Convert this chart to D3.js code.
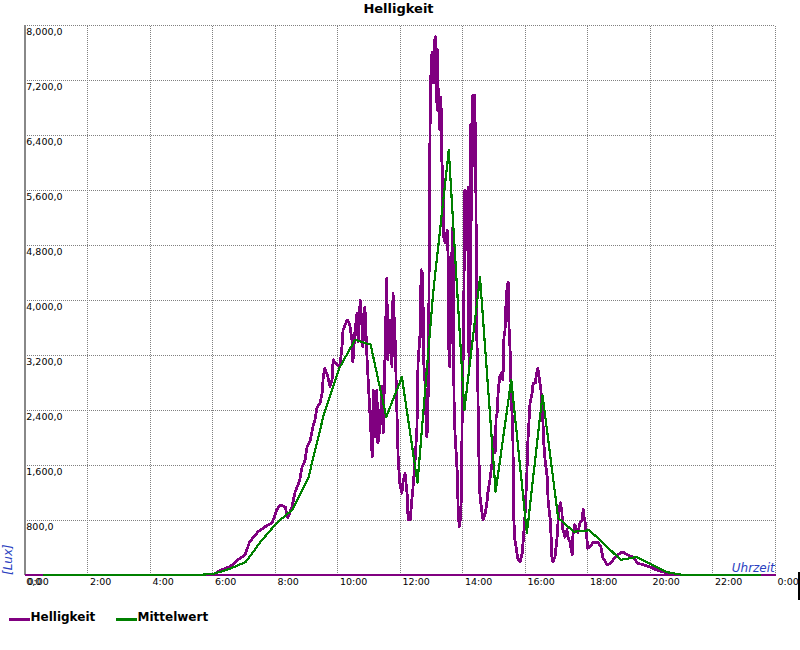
<!DOCTYPE html>
<html>
<head>
<meta charset="utf-8">
<script src="https://cdn.jsdelivr.net/npm/d3@7"></script>
<style>
  html, body { margin: 0; padding: 0; background: #fff; }
  svg { display: block; }
</style>
</head>
<body>
<svg id="chart" width="800" height="650"></svg>
<script>
// ---------------- DATA ----------------
const chartTitle = "Helligkeit";
const seriesNames = ["Helligkeit", "Mittelwert"];
const yAxisTitle = "[Lux]";
const xAxisTitle = "Uhrzeit";

// x ticks (minutes of day) and labels
const xTickValues = [0, 120, 240, 360, 480, 600, 720, 840, 960, 1080, 1200, 1320, 1440];
const xTickLabels = ["0:00", "2:00", "4:00", "6:00", "8:00", "10:00", "12:00", "14:00", "16:00", "18:00", "20:00", "22:00", "0:00"];
// y ticks (lux) and labels
const yTickValues = [0, 800, 1600, 2400, 3200, 4000, 4800, 5600, 6400, 7200, 8000];
const yTickLabels = ["0,0", "800,0", "1,600,0", "2,400,0", "3,200,0", "4,000,0", "4,800,0", "5,600,0", "6,400,0", "7,200,0", "8,000,0"];

// Helligkeit: time (minutes of day) and lux
const helligkeitMin = [
  0, 361, 375, 394, 409, 423, 431, 438, 448, 461, 475, 484, 490, 500, 505, 513, 519, 528, 532, 538,
  542, 548, 553, 557, 561, 567, 571, 573, 576, 582, 586, 590, 592, 599, 605, 609, 611, 619, 624, 628,
  630, 634, 638, 640, 644, 648, 649, 653, 657, 659, 663, 667, 669, 672, 676, 678, 682, 686, 688, 691,
  695, 697, 701, 705, 707, 711, 715, 717, 720, 724, 726, 730, 734, 736, 740, 743, 745, 749, 753, 755,
  759, 761, 763, 764, 766, 768, 770, 772, 774, 776, 778, 780, 782, 783, 785, 786, 787, 789, 791, 792,
  793, 795, 797, 799, 801, 802, 803, 804, 807, 811, 813, 814, 816, 818, 820, 822, 823, 824, 826, 830,
  832, 833, 834, 836, 838, 840, 841, 842, 843, 845, 847, 849, 851, 852, 853, 855, 856, 857, 858, 860,
  862, 864, 866, 867, 868, 869, 870, 872, 874, 878, 880, 884, 888, 889, 893, 897, 899, 901, 903, 905,
  907, 909, 912, 916, 918, 920, 922, 924, 926, 928, 929, 930, 932, 933, 935, 937, 939, 941, 945, 947,
  951, 955, 956, 960, 964, 966, 970, 974, 976, 980, 983, 985, 989, 991, 993, 995, 996, 999, 1003, 1005,
  1009, 1011, 1012, 1014, 1018, 1022, 1024, 1026, 1028, 1031, 1033, 1035, 1037, 1041, 1043, 1047, 1051, 1052, 1054, 1056,
  1060, 1062, 1066, 1070, 1072, 1074, 1076, 1081, 1085, 1091, 1100, 1106, 1110, 1118, 1124, 1133, 1143, 1149, 1158, 1168,
  1177, 1187, 1200, 1214, 1233, 1252, 1440
];
const helligkeitLux = [
  0, 0, 70, 120, 220, 290, 470, 540, 630, 700, 760, 950, 1020, 990, 830, 990, 1210, 1380, 1560, 1670,
  1860, 1960, 2150, 2250, 2440, 2500, 2650, 2880, 3010, 2880, 2740, 2840, 3130, 3060, 3030, 3320, 3560, 3710, 3640, 3420,
  3100, 3560, 3810, 3390, 4000, 3560, 3320, 3900, 3170, 2880, 2300, 1720, 2690, 2010, 2690, 1920, 2150, 2740, 2070, 2980,
  4320, 3130, 3710, 3030, 4100, 3420, 2210, 1670, 1340, 1190, 1340, 1480, 1190, 800, 800, 1090, 1240, 1630, 2150, 3080,
  3520, 4440, 3460, 4390, 3080, 2880, 2360, 2010, 2250, 4040, 6470, 7390, 7610, 7160, 7590, 7160, 7780, 7830, 6870, 7640,
  6760, 7060, 6470, 6950, 5940, 5160, 5940, 4920, 4830, 5020, 4580, 3320, 3030, 4100, 4680, 5060, 4040, 2590, 2070, 1530,
  990, 840, 700, 800, 1090, 2440, 3230, 3130, 4040, 5600, 4730, 5310, 5640, 3710, 3030, 3560, 6550, 6520, 5160, 6980,
  6180, 6980, 5700, 4580, 3420, 3130, 2650, 1670, 1140, 900, 800, 900, 1090, 1190, 1380, 1630, 1960, 2010, 1780, 2300,
  2360, 2690, 2880, 2940, 2840, 3460, 3560, 3960, 4190, 4260, 3810, 3560, 3230, 2880, 2440, 2070, 800, 510, 320, 220,
  190, 320, 410, 800, 1480, 1960, 2500, 2650, 2790, 2790, 2940, 3010, 2790, 2690, 2400, 2210, 1960, 1670, 1430, 1050,
  800, 470, 260, 190, 260, 550, 800, 950, 1050, 950, 660, 610, 550, 660, 550, 470, 290, 550, 660, 730,
  660, 610, 760, 800, 950, 840, 760, 390, 410, 470, 480, 410, 250, 150, 170, 250, 320, 330, 290, 260,
  170, 150, 120, 70, 30, 0, 0
];

// Mittelwert: half-hourly averages, time (minutes of day) and lux
const mittelwertMin = [
  34, 64, 94, 124, 154, 184, 214, 244, 274, 304, 334, 364, 394, 424, 454, 484, 514, 544, 574, 604,
  634, 664, 694, 724, 754, 784, 814, 844, 874, 904, 934, 964, 994, 1024, 1054, 1084, 1114, 1144, 1174, 1204,
  1234, 1264, 1294, 1324, 1354, 1384, 1414
];
const mittelwertLux = [
  0, 0, 0, 0, 0, 0, 0, 0, 0, 0, 0, 20, 90, 190, 495, 760, 950, 1400, 2330, 3010,
  3420, 3350, 2300, 2880, 1340, 4100, 6180, 2400, 4330, 1210, 2840, 610, 2620, 830, 630, 650, 440, 220, 260, 150,
  40, 0, 0, 0, 0, 0, 0
];

// ---------------- CHART ----------------
const svg = d3.select("#chart");
const fontFam = "'DejaVu Sans', Verdana, sans-serif";

const x = d3.scaleLinear().domain([0, 1440]).range([24.8, 774.8]);
const y = d3.scaleLinear().domain([0, 8000]).range([575, 25]);

svg.append("rect").attr("width", 800).attr("height", 650).attr("fill", "#fff");

// vertical gridlines
const xGrid = svg.append("g").attr("transform", `translate(0,${y(0)})`)
  .call(d3.axisBottom(x).tickValues(xTickValues.slice(1)).tickSize(-(y(0) - y(8000))).tickFormat(""));
xGrid.select(".domain").remove();
xGrid.selectAll("line").attr("stroke", "#808080").attr("stroke-dasharray", "1,1").attr("shape-rendering", "crispEdges");

// horizontal gridlines
const yGrid = svg.append("g").attr("transform", `translate(${x(0)},0)`)
  .call(d3.axisRight(y).tickValues(yTickValues.slice(1)).tickSize(x(1440) - x(0)).tickFormat(""));
yGrid.select(".domain").remove();
yGrid.selectAll("line").attr("stroke", "#808080").attr("stroke-dasharray", "1,1").attr("shape-rendering", "crispEdges");

// left axis line (gray)
svg.append("line")
  .attr("x1", x(0)).attr("x2", x(0)).attr("y1", y(8000)).attr("y2", y(0))
  .attr("stroke", "#888").attr("stroke-width", 2.5).attr("shape-rendering", "crispEdges");

// purple baseline
svg.append("line")
  .attr("x1", x(0)).attr("x2", x(1440) + 1).attr("y1", y(0)).attr("y2", y(0))
  .attr("stroke", "#800080").attr("stroke-width", 2.5).attr("shape-rendering", "crispEdges");

// series
const hellData = helligkeitMin.map((m, i) => ({ t: m, v: helligkeitLux[i] }));
const mittelData = mittelwertMin.map((m, i) => ({ t: m, v: mittelwertLux[i] }));
const line = d3.line().x(d => x(d.t)).y(d => y(d.v));

svg.append("path").datum(hellData)
  .attr("d", line).attr("fill", "none")
  .attr("stroke", "#800080").attr("stroke-width", 2.8).attr("stroke-linejoin", "round")
  .attr("shape-rendering", "crispEdges");

svg.append("path").datum(mittelData)
  .attr("d", line).attr("fill", "none")
  .attr("stroke", "#008000").attr("stroke-width", 2.2).attr("stroke-linejoin", "round")
  .attr("shape-rendering", "crispEdges");

// y tick labels (inside plot, below gridline)
const yLab = svg.append("g").attr("transform", `translate(${x(0)},0)`)
  .call(d3.axisLeft(y).tickValues(yTickValues).tickFormat((d, i) => yTickLabels[i]).tickSize(0));
yLab.select(".domain").remove();
yLab.selectAll("text")
  .attr("x", 1.5).attr("dy", null).attr("y", 9.3)
  .attr("text-anchor", "start").attr("fill", "#000")
  .style("font-family", fontFam).style("font-size", "9.5px");

// x tick labels
const xLab = svg.append("g").attr("transform", `translate(0,${y(0)})`)
  .call(d3.axisBottom(x).tickValues(xTickValues).tickFormat((d, i) => xTickLabels[i]).tickSize(0));
xLab.select(".domain").remove();
xLab.selectAll("text")
  .attr("x", 2.2).attr("dy", null).attr("y", 9.5)
  .attr("text-anchor", "start").attr("fill", "#000")
  .style("font-family", fontFam).style("font-size", "9.5px");

// title
svg.append("text").attr("x", 398.5).attr("y", 13)
  .attr("text-anchor", "middle")
  .style("font-family", fontFam).style("font-size", "13px").style("font-weight", "bold")
  .text(chartTitle);

// axis titles
svg.append("text")
  .attr("transform", `translate(12,575) rotate(-90)`)
  .attr("text-anchor", "start")
  .style("font-family", fontFam).style("font-size", "12px").style("font-style", "italic")
  .attr("fill", "#2a3fbf")
  .text(yAxisTitle);

svg.append("text").attr("x", x(1440)).attr("y", 571.5)
  .attr("text-anchor", "end")
  .style("font-family", fontFam).style("font-size", "12px").style("font-style", "italic")
  .attr("fill", "#2a3fbf")
  .text(xAxisTitle);

// right edge marker
svg.append("line").attr("x1", 799).attr("x2", 799).attr("y1", 572).attr("y2", 600)
  .attr("stroke", "#000").attr("stroke-width", 2);

// legend
const legendColors = ["#800080", "#008000"];
const legendX = [9, 116];
const leg = svg.append("g");
seriesNames.forEach((name, i) => {
  leg.append("line")
    .attr("x1", legendX[i]).attr("x2", legendX[i] + 21)
    .attr("y1", 619.5).attr("y2", 619.5)
    .attr("stroke", legendColors[i]).attr("stroke-width", 3);
  leg.append("text")
    .attr("x", legendX[i] + 21.5).attr("y", 621)
    .style("font-family", fontFam).style("font-size", "12px").style("font-weight", "bold")
    .text(name);
});
</script>
</body>
</html>
